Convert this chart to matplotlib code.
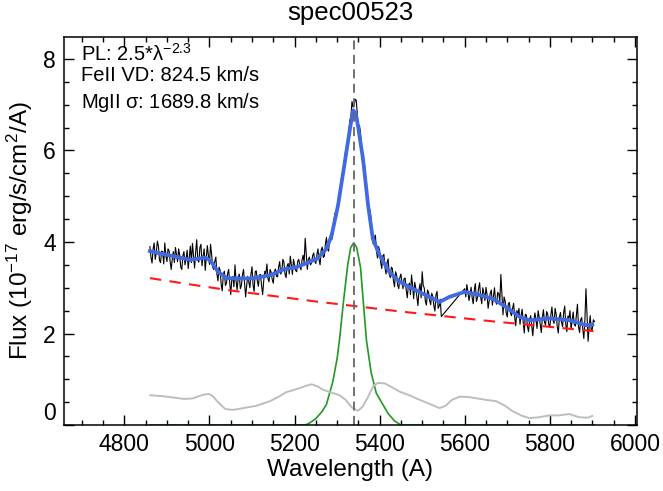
import numpy as np
import matplotlib
matplotlib.use("Agg")
import matplotlib.pyplot as plt

plt.rcParams['font.family'] = ['Liberation Sans', 'DejaVu Sans']
plt.rcParams['mathtext.default'] = 'regular'

# observed spectrum (2.5 A grid, masked gap between 5545 and 5600)
wave_a = np.arange(4860, 5546, 2.5)
flux_a = [3.90, 3.66, 3.54, 3.85, 3.98, 3.62, 3.77, 4.02, 3.91, 3.60,
          3.55, 3.80, 3.79, 3.52, 3.98, 3.70, 3.57, 3.85, 3.81, 3.58,
          3.40, 3.62, 3.79, 3.55, 3.88, 3.72, 3.57, 3.85, 3.71, 3.45,
          3.40, 3.70, 3.79, 3.50, 3.63, 3.82, 3.42, 3.66, 3.91, 3.55,
          3.97, 3.70, 3.43, 3.78, 4.05, 3.60, 3.56, 3.88, 3.95, 3.48,
          3.69, 3.85, 3.38, 3.64, 3.92, 3.70, 3.51, 3.95, 3.73, 3.45,
          3.40, 3.58, 3.67, 3.30, 3.15, 3.45, 3.38, 3.08, 2.93, 3.30,
          3.36, 3.05, 3.10, 3.30, 3.40, 3.12, 2.85, 3.18, 3.25, 3.02,
          3.50, 3.15, 2.95, 3.22, 3.30, 2.98, 3.05, 3.28, 3.40, 3.10,
          2.80, 3.05, 3.25, 3.12, 3.00, 3.30, 3.46, 3.05, 2.92, 3.35,
          3.37, 3.15, 3.03, 3.28, 3.29, 3.05, 2.85, 3.15, 3.36, 3.30,
          3.52, 3.20, 3.13, 3.40, 3.34, 3.18, 3.10, 3.35, 3.41, 3.25,
          3.24, 3.45, 3.57, 3.30, 3.35, 3.62, 3.56, 3.30, 3.22, 3.48,
          3.53, 3.30, 3.69, 3.50, 3.29, 3.62, 3.50, 3.38, 3.35, 3.58,
          3.62, 3.48, 3.39, 3.60, 3.71, 3.55, 4.08, 3.75, 3.40, 3.62,
          3.67, 3.50, 3.54, 3.70, 3.76, 3.58, 3.53, 3.72, 3.85, 3.62,
          3.50, 3.82, 3.89, 3.66, 3.69, 3.95, 4.10, 3.85, 3.80, 4.05,
          4.18, 4.05, 4.17, 4.45, 4.63, 4.52, 4.60, 4.90, 5.07, 5.20,
          5.36, 5.50, 5.45, 5.80, 6.00, 6.10, 6.11, 6.42, 6.66, 6.75,
          7.07, 6.95, 6.98, 7.12, 7.10, 6.80, 6.45, 6.55, 6.40, 6.05,
          5.70, 5.80, 5.65, 5.30, 5.15, 4.90, 4.55, 4.70, 4.50, 4.20,
          3.95, 4.10, 4.15, 3.80, 3.65, 3.90, 3.81, 3.55, 3.42, 3.70,
          3.73, 3.45, 3.30, 3.55, 3.63, 3.30, 3.22, 3.45, 3.42, 3.15,
          3.02, 3.35, 3.27, 3.05, 2.98, 3.22, 3.30, 3.12, 2.98, 3.20,
          3.21, 2.95, 2.78, 3.05, 3.10, 2.85, 3.28, 3.05, 2.76, 3.12,
          2.99, 2.80, 2.61, 2.95, 3.09, 2.78, 3.35, 3.05, 2.99, 2.70,
          2.62, 2.95, 2.90, 2.72, 2.63, 2.88, 2.81, 2.60, 2.49, 2.85,
          2.92, 2.55, 2.60, 2.75, 2.37]
wave_b = np.arange(5600, 5906, 2.5)
flux_b = [2.98, 2.80, 3.07, 2.92, 2.72, 2.85, 3.01, 2.78, 2.65, 2.95,
          3.09, 2.70, 2.78, 2.98, 3.11, 2.80, 2.65, 3.00, 2.88, 2.72,
          3.01, 2.85, 2.55, 2.72, 2.88, 2.95, 2.62, 2.80, 3.00, 2.70,
          2.64, 2.90, 2.87, 2.70, 3.29, 2.85, 2.41, 2.80, 2.71, 2.45,
          2.36, 2.65, 2.68, 2.45, 2.39, 2.55, 2.66, 2.35, 2.17, 2.50,
          2.43, 2.55, 2.20, 2.40, 2.53, 2.25, 2.01, 2.42, 2.40, 2.15,
          2.04, 2.30, 2.39, 2.18, 1.95, 2.25, 2.45, 2.30, 2.11, 2.50,
          2.36, 2.20, 2.02, 2.35, 2.52, 2.25, 2.18, 2.48, 2.43, 2.20,
          2.13, 2.40, 2.58, 2.30, 2.22, 2.55, 2.42, 2.15, 2.01, 2.35,
          2.46, 2.25, 2.15, 2.45, 2.60, 2.20, 2.04, 2.38, 2.34, 2.50,
          2.08, 2.30, 2.47, 2.20, 2.16, 2.40, 2.64, 2.15, 2.02, 2.30,
          2.35, 2.10, 1.89, 2.30, 2.98, 2.40, 1.83, 2.15, 2.39, 2.05,
          2.10, 2.30, 2.26]
wave = np.concatenate([wave_a, wave_b])
flux = np.array(flux_a + flux_b)

# total model
model_w = [4860, 4900, 4955, 4990, 5002, 5020, 5041, 5095, 5142, 5174, 5205,
           5252, 5275, 5287, 5302, 5318, 5330, 5338, 5344, 5349, 5361, 5373,
           5384, 5400, 5423, 5447, 5486, 5517, 5541, 5564, 5600, 5635, 5666,
           5697, 5728, 5752, 5799, 5846, 5885, 5900]
model_f = [3.80, 3.72, 3.61, 3.66, 3.60, 3.35, 3.21, 3.20, 3.27, 3.40, 3.45,
           3.63, 3.85, 4.14, 4.79, 5.74, 6.46, 6.88, 6.80, 6.54, 5.81, 4.79,
           4.07, 3.71, 3.34, 3.13, 2.94, 2.80, 2.69, 2.80, 2.91, 2.84, 2.76,
           2.58, 2.37, 2.29, 2.33, 2.29, 2.18, 2.20]

# power-law continuum
pl_w = [4860, 4950, 5050, 5150, 5250, 5350, 5450, 5550, 5650, 5750, 5850, 5905]
pl_f = [3.21, 3.08, 2.94, 2.82, 2.70, 2.59, 2.48, 2.38, 2.28, 2.19, 2.10, 2.05]

# MgII broad component
mg_w = [4860, 5225, 5235, 5250, 5265, 5275, 5290, 5300, 5306, 5315, 5325, 5332,
        5339, 5346, 5355, 5369, 5380, 5392, 5408, 5420, 5435, 5450, 5905]
mg_f = [0.0, 0.0, 0.04, 0.14, 0.30, 0.45, 0.95, 1.45, 1.89, 2.70, 3.50, 3.88,
        3.98, 3.88, 3.45, 1.85, 1.15, 0.70, 0.44, 0.25, 0.09, 0.0, 0.0]

# FeII template
fe_w = [4861, 4890, 4916, 4940, 4960, 4985, 4998, 5008, 5020, 5037, 5055,
        5080, 5110, 5142, 5165, 5181, 5200, 5213, 5228, 5240, 5255, 5267,
        5290, 5306, 5320, 5335, 5349, 5360, 5372, 5385, 5396, 5412, 5430,
        5447, 5470, 5494, 5520, 5541, 5555, 5570, 5588, 5610, 5650, 5674,
        5695, 5713, 5735, 5752, 5775, 5799, 5820, 5846, 5869, 5890, 5900]
fe_f = [0.65, 0.63, 0.60, 0.57, 0.58, 0.66, 0.68, 0.63, 0.50, 0.35, 0.33,
        0.37, 0.42, 0.52, 0.63, 0.72, 0.77, 0.81, 0.86, 0.89, 0.84, 0.77,
        0.70, 0.65, 0.55, 0.38, 0.31, 0.40, 0.60, 0.85, 0.92, 0.91, 0.82,
        0.73, 0.65, 0.55, 0.45, 0.37, 0.42, 0.55, 0.62, 0.61, 0.55, 0.52,
        0.42, 0.30, 0.20, 0.15, 0.17, 0.21, 0.21, 0.24, 0.17, 0.16, 0.20]

line_center = 5339

fig = plt.figure(figsize=(6.63, 4.91), dpi=100)
ax = fig.add_axes([0.0965, 0.1344, 0.8643, 0.7902])

ax.plot(wave, flux, color='black', lw=0.8)
ax.plot(model_w, model_f, color='#4169E1', lw=2.7)
ax.plot(pl_w, pl_f, color='#FF1A1A', lw=1.5, dashes=(5.5, 4))
ax.plot(mg_w, mg_f, color='#229922', lw=1.2)
ax.plot(fe_w, fe_f, color='#BEBEBE', lw=1.4)
ax.axvline(line_center, color='#666666', lw=1.3, dashes=(5, 3))

ax.set_xlim(4658, 6005)
ax.set_ylim(0.03, 8.48)
ax.set_xticks(np.arange(4800, 6001, 200))
ax.set_xticks(np.arange(4700, 6001, 50), minor=True)
ax.set_yticks(np.arange(0, 9, 2))
ax.set_yticks(np.arange(0, 8.5, 0.5), minor=True)
ax.tick_params(which='both', direction='in', top=True, right=True, width=1.0,
               labelsize=16.5, pad=6)
ax.tick_params(which='major', length=7)
ax.tick_params(which='minor', length=3.5)
for s in ax.spines.values():
    s.set_linewidth(1.1)
# the zero label sits just above the bottom axis, as in the original
ax.get_yticklabels()[0].set_va('bottom')

ax.set_title('spec00523', fontsize=18.5, pad=12)
ax.set_xlabel('Wavelength (A)', fontsize=17.5, labelpad=2)
ax.set_ylabel(r'Flux (10$^{-17}$ erg/s/cm$^{2}$/A)', fontsize=17.5, labelpad=6)

ax.text(0.03, 0.984, r'PL: 2.5*$\lambda^{-2.3}$', transform=ax.transAxes,
        fontsize=14.5, va='top', ha='left')
ax.text(0.03, 0.926, 'FeII VD: 824.5 km/s', transform=ax.transAxes,
        fontsize=14.5, va='top', ha='left')
ax.text(0.03, 0.86, r'MgII $\sigma$: 1689.8 km/s', transform=ax.transAxes,
        fontsize=14.5, va='top', ha='left')

fig.savefig('out.png', dpi=100)
